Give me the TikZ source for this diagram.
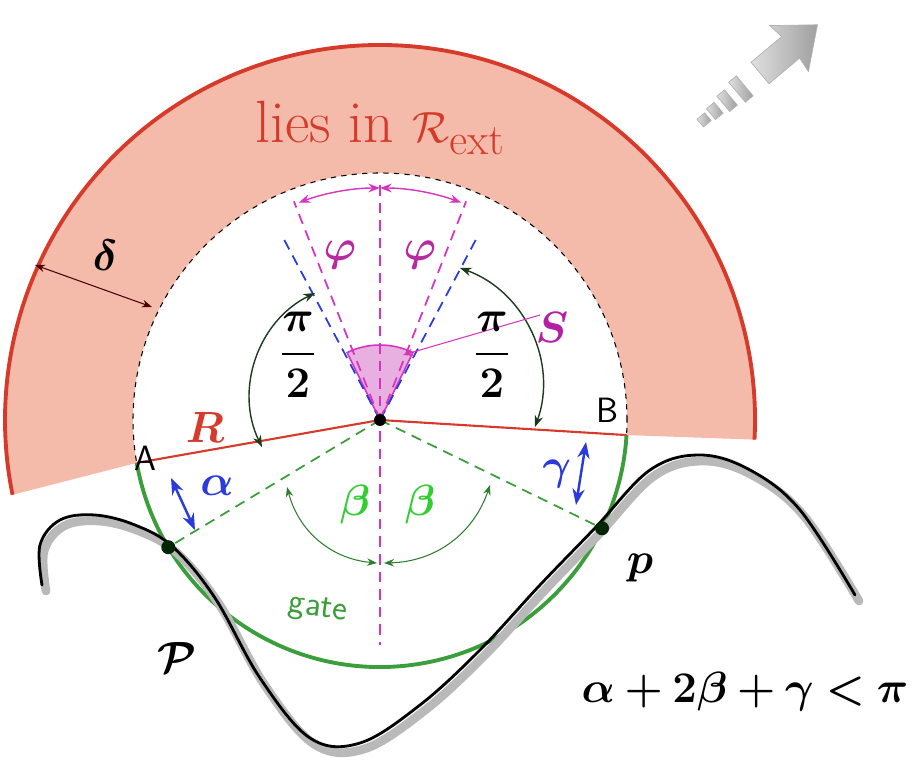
\documentclass[tikz,border=0pt]{standalone}
\usepackage{amsmath,amssymb,bm}
\usepackage{tikz}
\usetikzlibrary{arrows.meta,calc}
\definecolor{annulus}{HTML}{F4BBAA}
\definecolor{rimred}{HTML}{D63A2A}
\definecolor{gatgreen}{HTML}{3A9E3A}
\definecolor{betagreen}{HTML}{33CC33}
\definecolor{phimag}{HTML}{D633C0}
\definecolor{sectpink}{HTML}{E8B0E0}
\definecolor{angblue}{HTML}{2A3ADB}
\definecolor{halfgreen}{HTML}{1E3A1E}

\begin{document}
\begin{tikzpicture}[
    x=0.02cm, y=0.02cm,
    >=Stealth,
    arrow/.style={<->, line width=0.8pt},
    dashline/.style={dashed, line width=1pt, dash pattern=on 6pt off 4pt},
    big/.style={font=\fontsize{34}{38}\selectfont\boldmath},
    every node/.style={inner sep=1pt}
]
\useasboundingbox (0,0) rectangle (916,768);

\coordinate (O) at (380,348);

% ---- Exterior annulus ----
\fill[annulus] ($(O)+(-3:375)$) arc[start angle=-3, end angle=191.5, radius=375]
    -- ($(O)+(190:247)$) arc[start angle=190, end angle=-3.5, radius=247] -- cycle;
\draw[rimred, line width=2.2pt] ($(O)+(-3:375)$) arc[start angle=-3, end angle=191.5, radius=375];
\draw[black, dashed, line width=0.6pt] (O) circle[radius=247];

% ---- Gate ----
\draw[gatgreen, line width=2.2pt] ($(O)+(190:247)$) arc[start angle=190, end angle=356.5, radius=247];

% ---- Curve P ----
\draw[gray!55, line width=5pt, line cap=round, shift={(4,-6)}] plot[smooth, tension=0.6] coordinates {
    (42,183) (40,223) (60,248) (95,253) (135,243) (173,221) (215,170) (260,90)
    (310,30) (360,25) (420,63) (480,118) (540,183) (595,240) (650,298) (700,313)
    (750,298) (800,258) (855,173)};
\draw[black, line width=1.6pt, line cap=round] plot[smooth, tension=0.6] coordinates {
    (42,183) (40,223) (60,248) (95,253) (135,243) (173,221) (215,170) (260,90)
    (310,30) (360,25) (420,63) (480,118) (540,183) (595,240) (650,298) (700,313)
    (750,298) (800,258) (855,173)};

% ---- Points ----
\coordinate (A) at ($(O)+(190:247)$);
\coordinate (B) at ($(O)+(-3.5:247)$);
\coordinate (pleft) at ($(O)+(211:247)$);
\coordinate (pright) at ($(O)+(-26:247)$);

% ---- Sector S ----
\fill[sectpink] (O) -- ($(O)+(64:75)$) arc[start angle=64, end angle=116, radius=75] -- cycle;
\draw[phimag, line width=0.9pt] (O) -- ($(O)+(64:75)$) arc[start angle=64, end angle=116, radius=75] -- cycle;

% ---- Dashed rays ----
\draw[gatgreen, dashline] (O) -- (pleft);
\draw[gatgreen, dashline] (O) -- (pright);
\draw[angblue, dashline] (O) -- ($(O)+(118:210)$);
\draw[angblue, dashline] (O) -- ($(O)+(62:210)$);
\draw[phimag, dashline] (O) -- ($(O)+(111.5:235)$);
\draw[phimag, dashline] (O) -- ($(O)+(68.5:235)$);
\draw[phimag, dashline] ($(O)+(90:235)$) -- ($(O)+(270:225)$);

% ---- Radii ----
\draw[rimred, line width=1.2pt] (A) -- (O) -- (B);
\fill[black] (O) circle[radius=6];
\fill[black!85!green] (pleft) circle[radius=7];
\fill[black!85!green] (pright) circle[radius=7];

% ---- phi arcs ----
\draw[phimag, arrow] ($(O)+(90:232)$) arc[start angle=90, end angle=110.5, radius=232];
\draw[phimag, arrow] ($(O)+(90:232)$) arc[start angle=90, end angle=69.5, radius=232];

% ---- pi/2 arcs ----
\draw[halfgreen, arrow] (315,475) to[bend right=45] (262,321);
\draw[halfgreen, arrow] (460,500) to[bend left=45] (535,341);

% ---- beta arcs ----
\draw[gatgreen!80!black, arrow, line width=0.6pt] (287,281) to[bend right=35] (377,205);
\draw[gatgreen!80!black, arrow, line width=0.6pt] (490,283) to[bend left=35] (384,205);

% ---- alpha, gamma, delta ----
\draw[angblue, arrow, line width=1.4pt] (171,290) -- (195,238);
\draw[angblue, arrow, line width=1.4pt] (586,326) -- (576,263);
\draw[black!70!red, arrow, line width=0.6pt] (35,503) -- (152,461);
\draw[phimag, ->, line width=0.6pt] (540,453) -- (403,413);

% ---- Labels ----
\node[rimred, font=\fontsize{34}{38}\selectfont] (ext) at (380,640) {lies in $\mathcal{R}_{\mathrm{ext}}$};
\node[big] (delta) at (105,513) {$\delta$};
\node[phimag!85!black, big] (phil) at (340,513) {$\varphi$};
\node[phimag!85!black, big] (phir) at (420,513) {$\varphi$};
\node[phimag!60!violet, big] (slab) at (552,440) {$S$};
\node[font=\fontsize{30}{34}\selectfont\boldmath] (halfl) at (298,413) {$\dfrac{\pi}{2}$};
\node[font=\fontsize{30}{34}\selectfont\boldmath] (halfr) at (492,413) {$\dfrac{\pi}{2}$};
\node[rimred, big] (rlab) at (205,340) {$R$};
\node[font=\sffamily\fontsize{20}{22}\selectfont] (alab) at (145,310) {A};
\node[font=\sffamily\fontsize{20}{22}\selectfont] (blab) at (607,358) {B};
\node[angblue, big] (alpha) at (217,282) {$\alpha$};
\node[betagreen, big] (betal) at (355,263) {$\beta$};
\node[betagreen, big] (betar) at (420,263) {$\beta$};
\node[angblue, big] (gamma) at (557,294) {$\gamma$};
\node[gatgreen, rotate=-8, font=\sffamily\fontsize{20}{22}\selectfont] (gate) at (318,158) {gate};
\node[big] (plab) at (177,110) {$\mathcal{P}$};
\node[big] (pp) at (640,200) {$p$};
\node[font=\fontsize{36}{40}\selectfont] (cond) at (745,76) {$\boldsymbol{\alpha+2\beta+\gamma<\pi}$};

% ---- Direction icon ----
\begin{scope}[shift={(760,695)}, rotate=40]
  \shade[left color=gray!25, right color=gray!75, draw=gray!60]
    (0,-14) -- (40,-14) -- (38,-30) -- (75,0) -- (38,30) -- (40,14) -- (0,14) -- cycle;
  \foreach \xx/\hh in {-20/13, -38/10, -54/7, -68/5}
    \shade[left color=gray!25, right color=gray!75, draw=gray!60]
      (\xx,-\hh) rectangle ++(-10,2*\hh);
\end{scope}
\end{tikzpicture}
\end{document}
